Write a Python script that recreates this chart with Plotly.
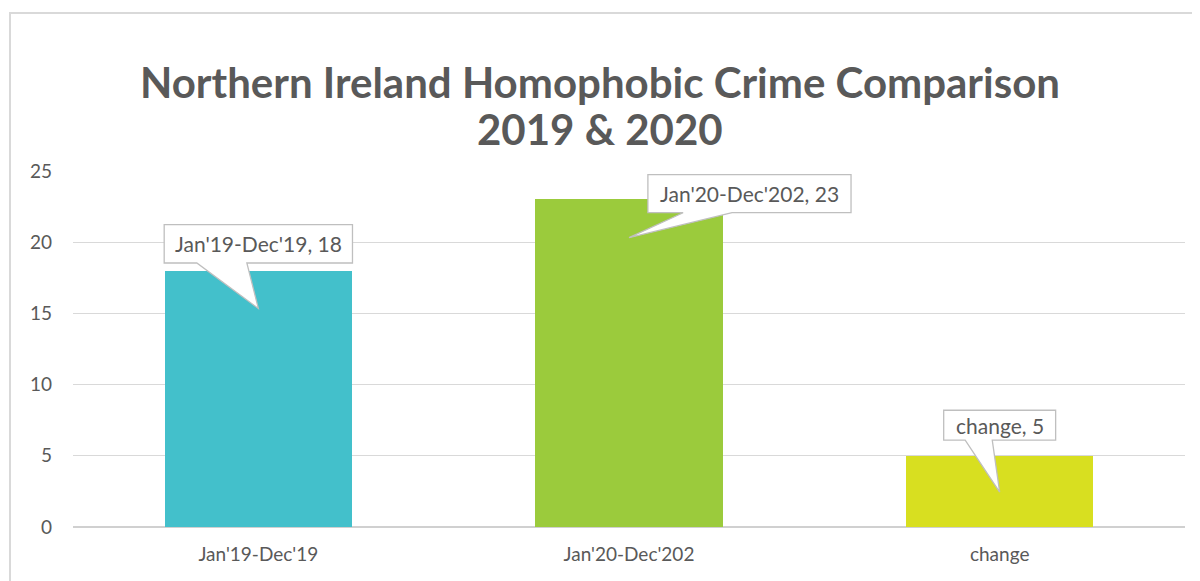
import plotly.graph_objects as go

# ---- data ----
categories = ["Jan'19-Dec'19", "Jan'20-Dec'202", "change"]
values = [18, 23, 5]
bar_colors = ["#43C0CB", "#9BCB3C", "#D8DF20"]
title_lines = ["Northern Ireland Homophobic Crime Comparison", "2019 & 2020"]
y_ticks = [0, 5, 10, 15, 20, 25]

# ---- callout styling (offsets relative to each bar: x in category units, y in value units) ----
callout_style = [
    dict(cx=0.0, hw=0.254, b=0.54, t=3.23, t0=-0.166, t1=-0.031, tipx=0.0, tipy=-2.65),
    dict(cx=0.325, hw=0.274, b=-0.93, t=1.74, t0=0.146, t1=0.278, tipx=0.0, tipy=-2.68),
    dict(cx=0.0, hw=0.151, b=1.10, t=3.20, t0=-0.093, t1=-0.020, tipx=0.0, tipy=-2.55),
]

FONT = "Lato, Calibri, sans-serif"
TXT = "#595959"

W, H = 1200, 581
OFF = 8  # page body margin
L, R, T, B = 65, 23, 163, 62
pw = W - L - R
ph = H - T - B


def page_x(px):
    return (px - OFF - L) / pw


def page_y(py):
    return (H - B - (py - OFF)) / ph


xs = list(range(len(categories)))

fig = go.Figure()
fig.add_trace(go.Bar(
    x=xs, y=values, marker=dict(color=bar_colors, line=dict(width=0)),
    width=0.505, hoverinfo="skip",
))

shapes = []
annotations = []

# outer chart border
shapes.append(dict(type="rect", xref="paper", yref="paper",
                   x0=page_x(10), x1=page_x(1230),
                   y0=page_y(620), y1=page_y(13),
                   line=dict(color="#D9D9D9", width=2), fillcolor="rgba(0,0,0,0)", layer="below"))

# title lines
for line, py, size in zip(title_lines, [82, 129], [42, 42]):
    annotations.append(dict(x=page_x(600), y=page_y(py), xref="paper", yref="paper",
                            xanchor="center", yanchor="middle", showarrow=False,
                            text=f"<b>{line}</b>",
                            font=dict(family=FONT, size=size, color=TXT)))

for i, (cat, v, st) in enumerate(zip(categories, values, callout_style)):
    cx = i + st["cx"]
    x0, x1 = cx - st["hw"], cx + st["hw"]
    yb, yt = v + st["b"], v + st["t"]
    bx0, bx1 = i + st["t0"], i + st["t1"]
    tx, ty = i + st["tipx"], v + st["tipy"]
    path = (f"M {x0},{yt} L {x1},{yt} L {x1},{yb} L {bx1},{yb} L {tx},{ty} "
            f"L {bx0},{yb} L {x0},{yb} Z")
    shapes.append(dict(type="path", xref="x", yref="y", path=path,
                       fillcolor="white", line=dict(color="#BFBFBF", width=1.3), layer="above"))
    annotations.append(dict(x=cx, y=(yb + yt) / 2, xref="x", yref="y",
                            text=f"{cat}, {v}", showarrow=False,
                            font=dict(family=FONT, size=21, color=TXT)))

fig.update_layout(
    width=W, height=H,
    margin=dict(l=L, r=R, t=T, b=B),
    paper_bgcolor="white", plot_bgcolor="white",
    showlegend=False,
    bargap=0,
    xaxis=dict(range=[-0.5, 2.5], tickmode="array", tickvals=xs, ticktext=categories,
               showgrid=False, zeroline=False, showline=False, ticks="",
               tickfont=dict(family=FONT, size=19, color=TXT),
               ticklabelstandoff=14, fixedrange=True),
    yaxis=dict(range=[0, 25], tickmode="array", tickvals=y_ticks,
               showgrid=True, gridcolor="#D9D9D9", gridwidth=1.3,
               zeroline=True, zerolinecolor="#D0D0D0", zerolinewidth=1.6,
               showline=False, ticks="",
               tickfont=dict(family=FONT, size=19, color=TXT),
               ticklabelstandoff=20, fixedrange=True),
    shapes=shapes,
    annotations=annotations,
)

fig.write_html("out.html")
